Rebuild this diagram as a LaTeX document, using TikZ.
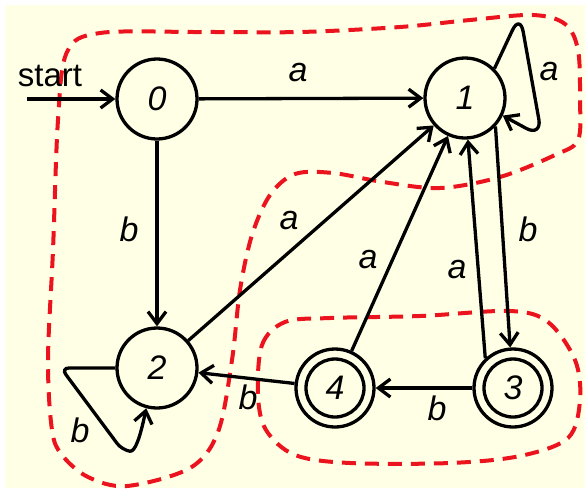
\documentclass[tikz,border=0pt]{standalone}
\usepackage{fontspec}
\setmainfont{Liberation Sans}
\usetikzlibrary{arrows.meta}
\definecolor{bg}{RGB}{255,255,230}
\definecolor{dred}{RGB}{235,20,30}
\begin{document}
\begin{tikzpicture}[x=1pt,y=-1pt,
  state/.style={circle, draw, line width=3.3pt, minimum size=80pt, inner sep=0pt, fill=bg, font=\fontsize{34}{40}\selectfont\itshape},
  accstate/.style={state, minimum size=78pt},
  edge/.style={line width=3.3pt, -{Straight Barb[length=12pt,width=18pt]}},
  lab/.style={font=\fontsize{34}{40}\selectfont\itshape, inner sep=0pt},
  region/.style={dred, line width=4pt, dash pattern=on 14pt off 9pt}]
\useasboundingbox (0,0) rectangle (585,488);
\fill[white] (0,0) rectangle (585,488);
\fill[bg] (5,5) rectangle (585,488);

% regions
\draw[region] plot[smooth cycle, tension=0.55] coordinates {
 (52,430) (48,360) (53,250) (58,120) (67,52) (100,33) (200,32) (300,32)
 (400,27) (470,20) (533,15) (565,24) (578,50) (580,100) (578,140) (555,155)
 (500,177) (440,188) (383,182) (333,173) (295,174) (270,195) (252,235)
 (240,290) (232,360) (218,432) (190,468) (127,486) (88,477) (62,455)};
\draw[region] plot[smooth cycle, tension=0.55] coordinates {
 (258,395) (262,345) (285,322) (330,318) (420,316) (510,311) (548,322)
 (575,360) (580,400) (568,438) (520,456) (450,463) (350,463) (295,455) (266,430)};

% states
\node[state] (n0) at (157,99) {0};
\node[state] (n1) at (465,98) {1};
\node[state] (n2) at (157,368) {2};
\node[accstate] (n4) at (335,388) {4};
\node[accstate] (n3) at (513,388) {3};
\draw[line width=3.3pt] (n4.center) circle (29pt);
\draw[line width=3.3pt] (n3.center) circle (29pt);

% start
\coordinate (s) at (27,99);
\node[font=\fontsize{33}{40}\selectfont, inner sep=0pt] (st) at (50,76) {start};
\draw[edge] (s) -- (n0);

% edges
\draw[edge] (n0) -- (n1);
\draw[edge] (n0) -- (n2);
\draw[edge] (n2) -- (n1);
\draw[edge] (n4) -- (n1);
\draw[edge] (n3.133) -- (n1.-86);
\draw[edge] (n1.-43) -- (n3.94);
\draw[edge] (n3) -- (n4);
\draw[edge] (n4) -- (n2);
\draw[edge, rounded corners=18pt] (n1.45) -- (520,14) -- (542,137) -- (n1.-25);
\draw[edge, rounded corners=8pt] (n2.180) -- (61,368) -- (122,450) .. controls (135,452) and (140,438) .. (n2.-105);

% labels
\node[lab] (l01) at (298,73) {a};
\node[lab] (l02) at (129,229) {b};
\node[lab] (l21) at (289,221) {a};
\node[lab] (l41) at (368,260) {a};
\node[lab] (l31) at (457,270) {a};
\node[lab] (l13) at (528,229) {b};
\node[lab] (l34) at (437,408) {b};
\node[lab] (l42) at (248,397) {b};
\node[lab] (l11) at (549,72) {a};
\node[lab] (l22) at (80,430) {b};
\end{tikzpicture}
\end{document}
